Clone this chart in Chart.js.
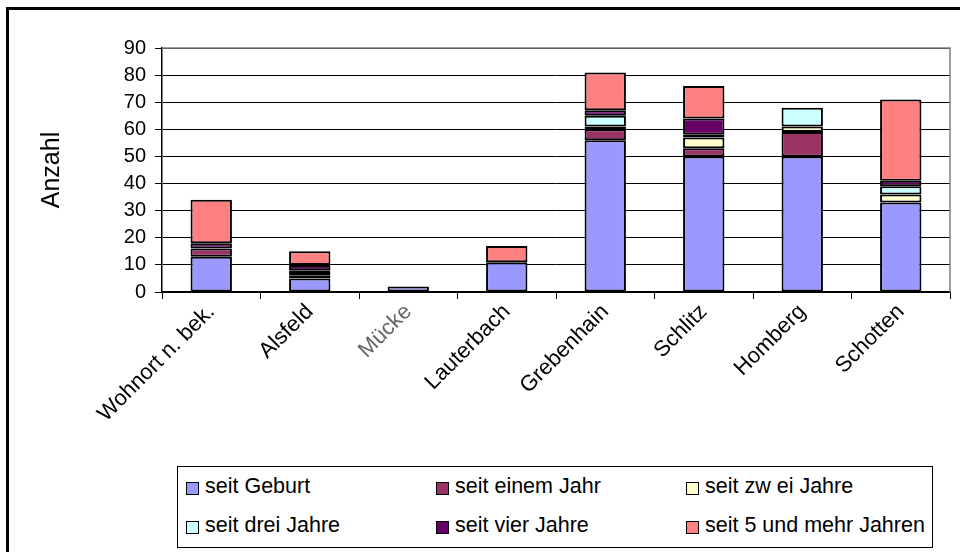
<!DOCTYPE html>
<html>
<head>
<meta charset="utf-8">
<script src="https://cdn.jsdelivr.net/npm/chart.js@4/dist/chart.umd.min.js"></script>
<style>
  body { margin: 0; background: #fff; overflow: hidden; }
  #wrap { position: relative; width: 960px; height: 552px; }
  #frame { position: absolute; left: 6px; top: 7px; width: 1000px; height: 600px; border: 3px solid #000; }
  #legend { position: absolute; left: 177px; top: 466px; width: 754px; height: 80px; border: 1px solid #000; background: #fff;
            font-family: "Liberation Sans", Arial, sans-serif; font-size: 21.5px; color: #000; }
  .item { position: absolute; height: 24px; line-height: 24px; white-space: nowrap; }
  .box { position: absolute; left: 0; top: 5px; width: 11px; height: 11px; border: 1px solid #000; }
  .txt { position: absolute; left: 19px; top: -3px; }
</style>
</head>
<body>
<div id="wrap">
  <div id="frame"></div>
  <canvas id="myChart" width="960" height="552" style="position:absolute;left:0;top:0"></canvas>
  <div id="legend"></div>
</div>
<script>
// daten
const kategorien = ["Wohnort n. bek.", "Alsfeld", "Mücke", "Lauterbach", "Grebenhain", "Schlitz", "Homberg", "Schotten"];
const seitGeburt = [13, 5, 2, 11, 56, 50, 50, 33];
const seitEinemJahr = [3, 1, 0, 0, 4, 3, 9, 0];
const seitZweiJahre = [0, 1, 0, 0, 1, 4, 2, 3];
const seitDreiJahre = [0, 1, 0, 0, 4, 1, 7, 3];
const seitVierJahre = [2, 2, 0, 0, 2, 6, 0, 2];
const seit5UndMehr = [16, 5, 0, 6, 14, 12, 0, 30];
const yTicks = [0, 10, 20, 30, 40, 50, 60, 70, 80, 90];

const serien = [
  { label: "seit Geburt", data: seitGeburt, farbe: "#9999FF" },
  { label: "seit einem Jahr", data: seitEinemJahr, farbe: "#993366" },
  { label: "seit zw ei Jahre", data: seitZweiJahre, farbe: "#FFFFCC" },
  { label: "seit drei Jahre", data: seitDreiJahre, farbe: "#CCFFFF" },
  { label: "seit vier Jahre", data: seitVierJahre, farbe: "#660066" },
  { label: "seit 5 und mehr Jahren", data: seit5UndMehr, farbe: "#FF8080" },
];

// rahmen oben/rechts um die zeichenflaeche
const rahmenPlugin = {
  id: "rahmen",
  afterDraw(chart) {
    const a = chart.chartArea;
    const ctx = chart.ctx;
    ctx.save();
    ctx.strokeStyle = "#808080";
    ctx.lineWidth = 1.5;
    ctx.beginPath();
    ctx.moveTo(a.left, a.top);
    ctx.lineTo(a.right, a.top);
    ctx.lineTo(a.right, a.bottom);
    ctx.stroke();
    ctx.restore();
  },
};

const config = {
  type: "bar",
  data: {
    labels: kategorien,
    datasets: serien.map((s) => ({
      label: s.label,
      data: s.data,
      backgroundColor: s.farbe,
      borderColor: "#000",
      borderWidth: 2,
      borderSkipped: false,
      barPercentage: 0.42,
      categoryPercentage: 1,
    })),
  },
  options: {
    responsive: false,
    animation: false,
    layout: { padding: { left: 33, top: 48, right: 10, bottom: 0 } },
    plugins: { legend: { display: false }, tooltip: { enabled: false } },
    scales: {
      x: {
        stacked: true,
        offset: true,
        grid: { drawOnChartArea: false, drawTicks: true, tickLength: 7, color: "#000", offset: true },
        border: { color: "#000", width: 1.5 },
        ticks: {
          minRotation: 45,
          maxRotation: 45,
          padding: 0,
          font: { family: "Liberation Sans", size: 22 },
          color: (c) => (c.index === 2 ? "#666" : "#000"),
        },
        afterFit: (s) => { s.height = 260; },
      },
      y: {
        stacked: true,
        min: 0,
        max: 90,
        afterBuildTicks: (s) => { s.ticks = yTicks.map((v) => ({ value: v })); },
        grid: { color: "#000", lineWidth: 1, tickLength: 7 },
        border: { color: "#000", width: 1.5 },
        ticks: { padding: 9, color: "#000", font: { family: "Liberation Sans", size: 20 } },
        title: { display: true, text: "Anzahl", color: "#000", font: { family: "Liberation Sans", size: 25 } },
        afterFit: (s) => { s.width = 129; },
      },
    },
  },
  plugins: [rahmenPlugin],
};

const chartDOM = document.getElementById("myChart").getContext("2d");
window.myChart = new Chart(chartDOM, config);

// legende in drei spalten
const legende = document.getElementById("legend");
const spalten = [8, 258, 508];
const zeilen = [10, 49];
serien.forEach((s, i) => {
  const el = document.createElement("div");
  el.className = "item";
  el.style.left = spalten[i % 3] + "px";
  el.style.top = zeilen[Math.floor(i / 3)] + "px";
  el.innerHTML = `<span class="box" style="background:${s.farbe}"></span><span class="txt">${s.label}</span>`;
  legende.appendChild(el);
});
</script>
</body>
</html>
